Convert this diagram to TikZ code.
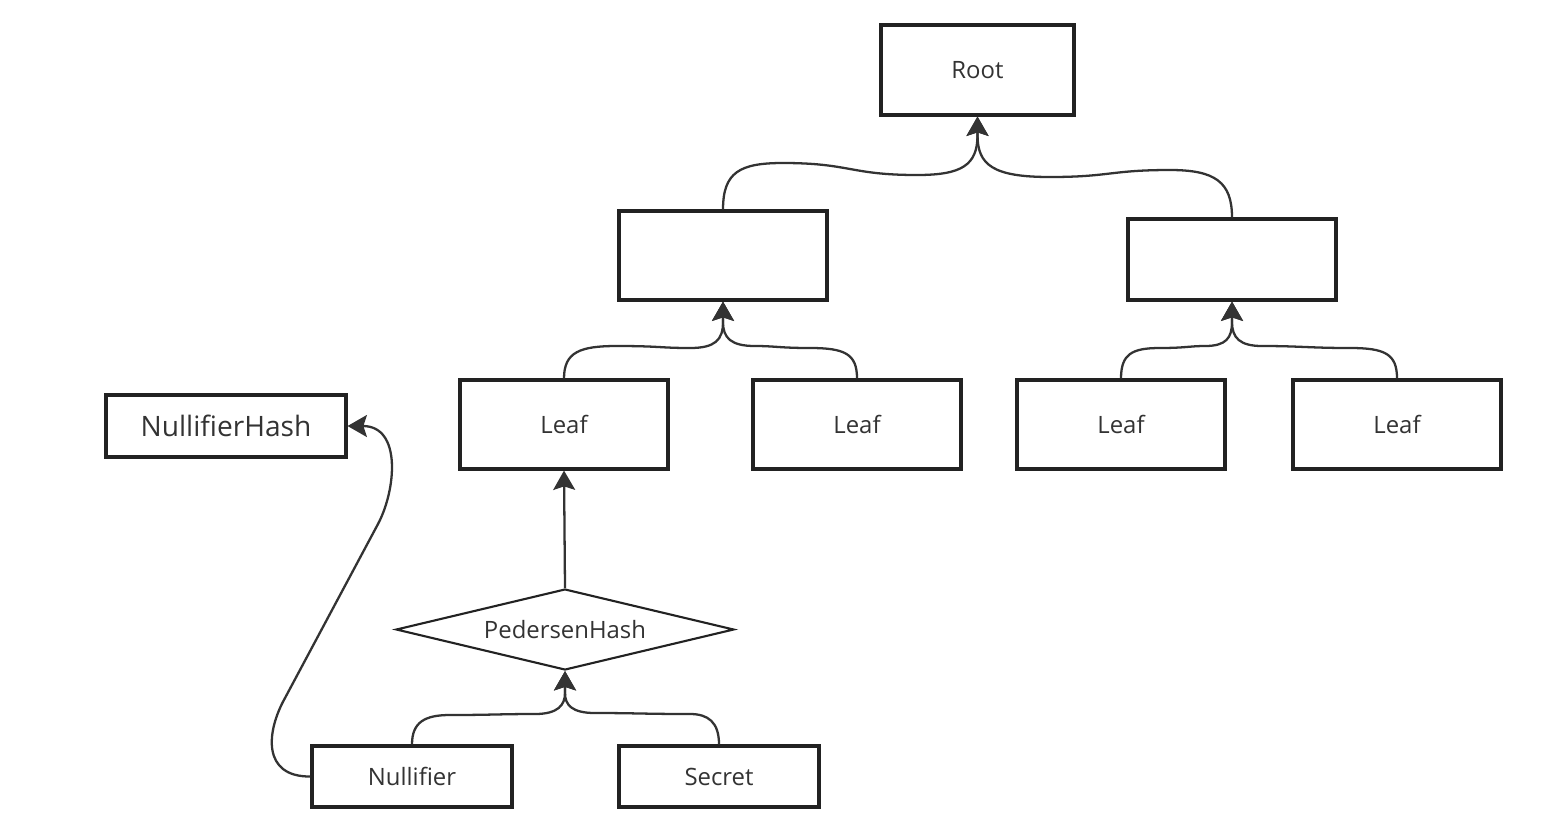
\documentclass[tikz,border=0pt]{standalone}
\usepackage{fontspec}
\setmainfont{Open Sans}
\usetikzlibrary{arrows.meta,shapes.geometric}
\definecolor{ink}{HTML}{222222}
\definecolor{txt}{HTML}{333333}
\definecolor{lnk}{HTML}{333333}
\tikzset{
  box/.style={draw=ink,line width=1.8pt,rectangle,inner sep=0pt,text=txt,font=\fontsize{13.6}{16}\selectfont},
  hashnode/.style={draw=ink,line width=1.2pt,diamond,inner sep=0pt,aspect=4,text=txt,font=\fontsize{13.6}{16}\selectfont,minimum width=6.76cm,minimum height=1.62cm},
  edge/.style={draw=lnk,line width=1.3pt,-{Stealth[length=11pt,width=12.5pt,inset=2pt]}}
}
\begin{document}
\begin{tikzpicture}[x=0.02cm,y=-0.02cm]
\useasboundingbox (0,0) rectangle (1557,836);
% nodes
\node[box,minimum width=3.86cm,minimum height=1.80cm] (root) at (977.5,70) {Root};
\node[box,minimum width=4.16cm,minimum height=1.78cm] (ml) at (723,255.5) {};
\node[box,minimum width=4.16cm,minimum height=1.62cm] (mr) at (1232,259.5) {};
\node[box,minimum width=4.16cm,minimum height=1.78cm] (l1) at (564,424.5) {Leaf};
\node[box,minimum width=4.16cm,minimum height=1.78cm] (l2) at (857,424.5) {Leaf};
\node[box,minimum width=4.16cm,minimum height=1.78cm] (l3) at (1121,424.5) {Leaf};
\node[box,minimum width=4.16cm,minimum height=1.78cm] (l4) at (1397,424.5) {Leaf};
\node[box,minimum width=4.80cm,minimum height=1.24cm,font=\fontsize{16}{19}\selectfont] (nh) at (226,426) {NullifierHash};
\node[hashnode] (ph) at (565,629.5) {PedersenHash};
\node[box,minimum width=4.00cm,minimum height=1.22cm] (nul) at (412,776.5) {Nullifier};
\node[box,minimum width=4.00cm,minimum height=1.22cm] (sec) at (719,776.5) {Secret};
% connectors
\draw[edge] (ml.north) .. controls (723,172) and (740,163) .. (783,163)
  .. controls (850,163) and (850,175) .. (917,175)
  .. controls (962,175) and (977.5,165) .. (977.5,135) -- (root.south);
\draw[edge] (mr.north) .. controls (1232,182) and (1215,170) .. (1170,170)
  .. controls (1110,170) and (1110,177) .. (1050,177)
  .. controls (993,177) and (977.5,165) .. (977.5,135) -- (root.south);
\draw[edge] (l1.north) .. controls (564,352) and (580,346) .. (617,346)
  .. controls (660,346) and (660,348) .. (690,348)
  .. controls (715,348) and (723,340) .. (723,322) -- (ml.south);
\draw[edge] (l2.north) .. controls (857,354) and (845,348) .. (810,348)
  .. controls (780,348) and (775,346) .. (755,346)
  .. controls (731,346) and (723,338) .. (723,322) -- (ml.south);
\draw[edge] (l3.north) .. controls (1121,354) and (1132,348) .. (1160,348)
  .. controls (1185,348) and (1190,346) .. (1205,346)
  .. controls (1226,346) and (1232,338) .. (1232,322) -- (mr.south);
\draw[edge] (l4.north) .. controls (1397,354) and (1385,348) .. (1350,348)
  .. controls (1310,348) and (1300,346) .. (1262,346)
  .. controls (1240,346) and (1232,338) .. (1232,322) -- (mr.south);
\draw[edge] (ph.north) -- (l1.south);
\draw[edge] (nul.north) .. controls (412,722) and (425,715) .. (450,715)
  .. controls (490,715) and (500,714) .. (535,714)
  .. controls (558,714) and (565,705) .. (565,693) -- (ph.south);
\draw[edge] (sec.north) .. controls (719,722) and (708,714) .. (690,714)
  .. controls (645,714) and (635,713) .. (595,713)
  .. controls (572,713) and (565,705) .. (565,693) -- (ph.south);
\draw[edge] (nul.west) .. controls (262,777) and (266,732) .. (285,698)
  -- (378,524) .. controls (396,490) and (402,426) .. (nh.east);
\end{tikzpicture}
\end{document}
